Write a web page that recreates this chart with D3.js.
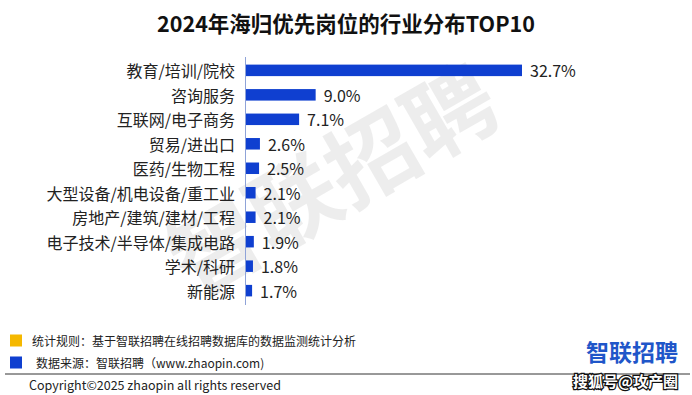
<!DOCTYPE html>
<html>
<head>
<meta charset="utf-8">
<script src="https://cdn.jsdelivr.net/npm/d3@7/dist/d3.min.js"></script>
<style>
  body { margin: 0; background: #fff; }
  text { font-family: "Noto Sans CJK SC", "Noto Sans", sans-serif; }
</style>
</head>
<body>
<div class="display"></div>
<script>
const width = 692;
const height = 395;

const categories = ['教育/培训/院校', '咨询服务', '互联网/电子商务', '贸易/进出口', '医药/生物工程',
    '大型设备/机电设备/重工业', '房地产/建筑/建材/工程', '电子技术/半导体/集成电路', '学术/科研', '新能源'];
const values = [32.7, 9.0, 7.1, 2.6, 2.5, 2.1, 2.1, 1.9, 1.8, 1.7];

const title = '2024年海归优先岗位的行业分布TOP10';
const notes = ['统计规则：基于智联招聘在线招聘数据库的数据监测统计分析', '数据来源：智联招聘（www.zhaopin.com)'];
const noteColors = ['#f5b800', '#0f3fd0'];

const svg = d3.select('.display')
    .append('svg')
    .attr('width', width)
    .attr('height', height);

// watermark
const wm = svg.append('g')
    .attr('transform', 'translate(330, 175) rotate(-30)')
    .attr('fill', '#000')
    .attr('fill-opacity', 0.07);
wm.append('text')
    .attr('text-anchor', 'middle')
    .attr('dominant-baseline', 'central')
    .attr('font-size', 90)
    .attr('font-weight', 'bold')
    .text('智联招聘');

svg.append('text')
    .attr('x', width / 2)
    .attr('y', 22)
    .attr('text-anchor', 'middle')
    .attr('dominant-baseline', 'central')
    .attr('font-size', 21.5)
    .attr('font-weight', 'bold')
    .attr('fill', '#111')
    .text(title);

const xScale = d3.scaleLinear()
    .domain([1.0, 32.7])
    .range([246, 522]);

const yScale = d3.scaleBand()
    .domain(categories)
    .range([58, 303])
    .paddingInner(0.53)
    .paddingOuter(0.27);

svg.selectAll('rect.bar')
    .data(values)
    .enter()
    .append('rect')
    .attr('class', 'bar')
    .attr('x', xScale(1.0))
    .attr('y', (d, i) => yScale(categories[i]))
    .attr('width', d => xScale(d) - xScale(1.0))
    .attr('height', yScale.bandwidth())
    .attr('fill', '#0f3fd0');

svg.append('line')
    .attr('x1', 245.5).attr('x2', 245.5)
    .attr('y1', 57).attr('y2', 305)
    .attr('stroke', '#8fa3d8')
    .attr('stroke-width', 1);

svg.selectAll('text.cat')
    .data(categories)
    .enter()
    .append('text')
    .attr('class', 'cat')
    .attr('x', 235)
    .attr('y', d => yScale(d) + yScale.bandwidth() / 2)
    .attr('text-anchor', 'end')
    .attr('dominant-baseline', 'central')
    .attr('font-size', 16)
    .attr('fill', '#222')
    .text(d => d);

svg.selectAll('text.val')
    .data(values)
    .enter()
    .append('text')
    .attr('class', 'val')
    .attr('x', d => xScale(d) + 8)
    .attr('y', (d, i) => yScale(categories[i]) + yScale.bandwidth() / 2)
    .attr('dominant-baseline', 'central')
    .attr('font-size', 16)
    .attr('fill', '#222')
    .text(d => d.toFixed(1) + '%');

// footer notes
notes.forEach((n, i) => {
    const cy = 340.5 + i * 22;
    svg.append('rect')
        .attr('x', 10).attr('y', cy - 6)
        .attr('width', 12).attr('height', 12)
        .attr('fill', noteColors[i]);
    svg.append('text')
        .attr('x', i === 0 ? 32 : 36)
        .attr('y', cy)
        .attr('dominant-baseline', 'central')
        .attr('font-size', 12)
        .attr('fill', '#222')
        .text(n);
});

svg.append('line')
    .attr('x1', 5).attr('x2', 690)
    .attr('y1', 374).attr('y2', 374)
    .attr('stroke', '#333')
    .attr('stroke-width', 1);

svg.append('text')
    .attr('x', 29)
    .attr('y', 384)
    .attr('dominant-baseline', 'central')
    .attr('font-size', 12.5)
    .attr('fill', '#222')
    .text('Copyright©2025 zhaopin all rights reserved');

svg.append('text')
    .attr('x', 678)
    .attr('y', 351)
    .attr('text-anchor', 'end')
    .attr('dominant-baseline', 'central')
    .attr('font-size', 23)
    .attr('font-weight', 'bold')
    .attr('fill', '#1f56c9')
    .text('智联招聘');

svg.append('text')
    .attr('x', 678)
    .attr('y', 380)
    .attr('text-anchor', 'end')
    .attr('dominant-baseline', 'central')
    .attr('font-size', 15)
    .attr('font-weight', 'bold')
    .attr('fill', '#fff')
    .attr('stroke', '#111')
    .attr('stroke-width', 2.5)
    .attr('paint-order', 'stroke')
    .text('搜狐号@攻产圈');
</script>
</body>
</html>
